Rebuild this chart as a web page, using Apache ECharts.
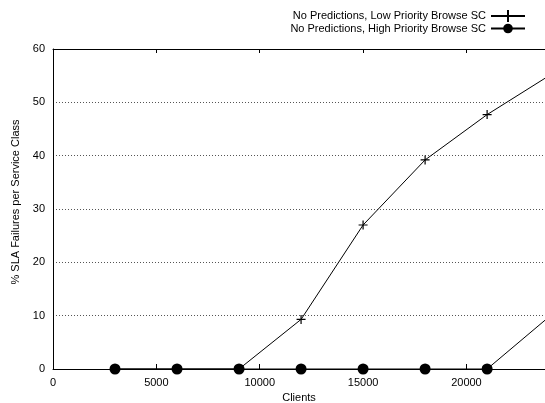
<!DOCTYPE html>
<html>
<head>
<meta charset="utf-8">
<script src="https://cdn.jsdelivr.net/npm/echarts@6/dist/echarts.min.js"></script>
<style>
  html, body { margin: 0; padding: 0; background: #fff; }
  #chart { width: 545px; height: 403px; }
</style>
</head>
<body>
<div id="chart"></div>
<script>
// values
const clients = [3000, 6000, 9000, 12000, 15000, 18000, 21000, 24000]
const lowPriority = [0, 0, 0, 9.3, 27.0, 39.2, 47.7, 55.0]
const highPriority = [0, 0, 0, 0, 0, 0, 0, 9.8]
const seriesNames = ['No Predictions, Low Priority Browse SC', 'No Predictions, High Priority Browse SC']

const font = 'Liberation Sans, Arial, sans-serif'

function pairs(xs, ys) {
  return xs.map((x, i) => [x, ys[i]])
}

const myChart = echarts.init(document.getElementById('chart'))
myChart.setOption({
  animation: false,
  textStyle: { fontFamily: font },
  legend: {
    right: 14,
    top: 4,
    orient: 'vertical',
    align: 'right',
    itemGap: 0,
    itemWidth: 34,
    itemHeight: 12,
    textStyle: { color: '#000', fontSize: 11, fontFamily: font },
    data: [
      { name: seriesNames[0], icon: 'path://M0,6L34,6M17,0L17,12' },
      { name: seriesNames[1] }
    ]
  },
  grid: { left: 53, right: 0, top: 49, bottom: 34, outerBoundsMode: 'none', containLabel: false },
  xAxis: [
    {
      type: 'value',
      min: 0,
      max: 23800,
      interval: 5000,
      name: 'Clients',
      nameLocation: 'middle',
      nameGap: 19,
      nameTextStyle: { color: '#000', fontSize: 11 },
      axisLine: { onZero: false, lineStyle: { color: '#000', width: 1 } },
      axisTick: { inside: true, length: 5, lineStyle: { color: '#000' } },
      axisLabel: { color: '#000', fontSize: 11, margin: 8, showMaxLabel: false, formatter: v => String(v) },
      splitLine: { show: false }
    },
    {
      type: 'value',
      position: 'top',
      min: 0,
      max: 23800,
      interval: 5000,
      z: 5,
      axisLine: { show: true, onZero: false, lineStyle: { color: '#000', width: 1 } },
      axisTick: { show: true, inside: true, length: 4, lineStyle: { color: '#000' } },
      axisLabel: { show: false },
      splitLine: { show: false }
    }
  ],
  yAxis: {
    type: 'value',
    min: 0,
    max: 60,
    interval: 10,
    name: '% SLA Failures per Service Class',
    nameLocation: 'middle',
    nameGap: 32,
    nameTextStyle: { color: '#000', fontSize: 11, padding: [0, 0, 0, 14] },
    axisLine: { show: true, lineStyle: { color: '#000', width: 1 } },
    axisTick: { show: false },
    axisLabel: { color: '#000', fontSize: 11, margin: 8 },
    splitLine: { showMinLine: false, showMaxLine: false, lineStyle: { color: '#555', type: [1, 2], width: 1 } }
  },
  series: [
    {
      name: seriesNames[0],
      type: 'line',
      data: pairs(clients, lowPriority),
      symbol: 'path://M0,5L10,5M5,0L5,10',
      symbolSize: 9,
      showAllSymbol: true,
      lineStyle: { color: '#000', width: 1 },
      itemStyle: { color: '#000', borderColor: '#000', borderWidth: 1.2 },
      z: 3
    },
    {
      name: seriesNames[1],
      type: 'line',
      data: pairs(clients, highPriority),
      symbol: 'circle',
      symbolSize: 11,
      showAllSymbol: true,
      lineStyle: { color: '#000', width: 1 },
      itemStyle: { color: '#000', borderWidth: 0 },
      z: 4
    }
  ]
})
</script>
</body>
</html>
